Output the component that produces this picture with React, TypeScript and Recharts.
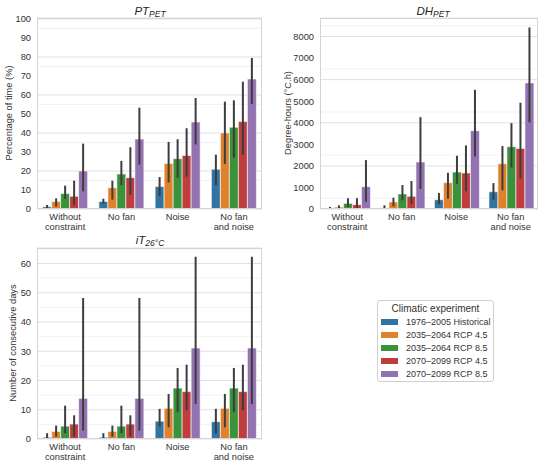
import React from 'react'
import { BarChart, Bar, XAxis, YAxis, CartesianGrid, ErrorBar } from 'recharts'

const categories = ['Without\nconstraint', 'No fan', 'Noise', 'No fan\nand noise']
const seriesNames = [
  '1976–2005 Historical',
  '2035–2064 RCP 4.5',
  '2035–2064 RCP 8.5',
  '2070–2099 RCP 4.5',
  '2070–2099 RCP 8.5',
]
const seriesColors = ['#3274a1', '#e1812c', '#3a923a', '#c03d3e', '#9372b2']

// PT_PET (% of time), one row per series, one value per category
const ptMean = [
  [1.2, 4.0, 11.8, 20.9],
  [3.9, 11.2, 23.9, 40.0],
  [8.1, 18.4, 26.5, 43.0],
  [6.7, 16.5, 28.2, 46.0],
  [20.0, 36.8, 45.8, 68.4],
]
const ptLow = [
  [0.35, 2.8, 6.8, 12.6],
  [1.4, 4.9, 14.0, 23.7],
  [5.3, 12.5, 16.5, 27.0],
  [1.9, 7.4, 17.0, 28.4],
  [9.3, 23.3, 34.0, 55.3],
]
const ptHigh = [
  [2.1, 5.4, 16.8, 28.6],
  [5.6, 14.9, 35.3, 56.5],
  [12.3, 25.3, 36.7, 57.2],
  [14.9, 32.5, 42.5, 67.0],
  [34.4, 53.3, 58.4, 79.5],
]

// DH_PET (degree-hours)
const dhMean = [
  [40, 50, 430, 800],
  [90, 325, 1220, 2100],
  [260, 695, 1715, 2890],
  [200, 590, 1670, 2810],
  [1035, 2180, 3630, 5850],
]
const dhLow = [
  [0, 0, 230, 430],
  [0, 120, 480, 865],
  [100, 400, 1170, 1930],
  [0, 215, 820, 1420],
  [340, 930, 2440, 4015],
]
const dhHigh = [
  [100, 170, 740, 1200],
  [170, 525, 1680, 2920],
  [500, 1110, 2470, 3985],
  [500, 1300, 2950, 4930],
  [2270, 4260, 5530, 8420],
]

// iT_26°C (consecutive days)
const itMean = [
  [0.6, 0.6, 6.1, 5.9],
  [2.6, 2.6, 10.5, 10.5],
  [4.4, 4.4, 17.4, 17.4],
  [5.1, 5.1, 16.2, 16.2],
  [13.9, 13.9, 31.1, 31.1],
]
const itLow = [
  [0, 0, 4.3, 1.9],
  [0.8, 0.8, 4.0, 4.0],
  [2.0, 2.0, 9.2, 9.2],
  [0.9, 0.9, 9.9, 9.9],
  [2.9, 2.9, 12.0, 12.0],
]
const itHigh = [
  [2.0, 2.0, 10.3, 10.3],
  [4.6, 4.6, 15.4, 15.4],
  [11.4, 11.4, 24.3, 24.3],
  [8.1, 8.1, 25.4, 25.4],
  [48.2, 48.2, 62.3, 62.3],
]

const ptTicks = [0, 10, 20, 30, 40, 50, 60, 70, 80, 90, 100]
const ptMinor = [5, 15, 25, 35, 45, 55, 65, 75, 85, 95]
const dhTicks = [0, 1000, 2000, 3000, 4000, 5000, 6000, 7000, 8000]
const dhMinor = [500, 1500, 2500, 3500, 4500, 5500, 6500, 7500, 8500]
const itTicks = [0, 10, 20, 30, 40, 50, 60]
const itMinor = [5, 15, 25, 35, 45, 55, 65]

const FONT = '"Liberation Sans", Arial, sans-serif'
const TEXT = '#333333'

function buildRows(mean: number[][], low: number[][], high: number[][]) {
  return categories.map((cat, i) => {
    const row: Record<string, any> = { cat }
    mean.forEach((vals, s) => {
      row['v' + s] = vals[i]
      row['e' + s] = [vals[i] - low[s][i], high[s][i] - vals[i]]
    })
    return row
  })
}

const XTick = (props: any) => {
  const { x, y, payload } = props
  const lines = String(payload.value).split('\n')
  return (
    <text x={x} y={y} textAnchor="middle" fill={TEXT} fontSize={9.3} fontFamily={FONT}>
      {lines.map((l, i) => (
        <tspan key={i} x={x} dy={10.6}>
          {l}
        </tspan>
      ))}
    </text>
  )
}

interface PanelProps {
  left: number
  top: number
  yWidth: number
  marginLeft: number
  marginRight: number
  domainMax: number
  ticks: number[]
  minor: number[]
  rows: Record<string, any>[]
}

function Panel({ left, top, yWidth, marginLeft, marginRight, domainMax, ticks, minor, rows }: PanelProps) {
  const plotLeft = marginLeft + yWidth
  const plotW = 275 - marginRight - plotLeft
  return (
    <div style={{ position: 'absolute', left, top, width: 275, height: 240 }}>
      <BarChart
        width={275}
        height={240}
        data={rows}
        margin={{ top: 18, right: marginRight, bottom: 5, left: marginLeft }}
        barCategoryGap="10%"
        barGap={0}
      >
        <CartesianGrid vertical={false} stroke="#efefef" strokeWidth={0.8} horizontalValues={minor} />
        <CartesianGrid vertical={false} stroke="#e0e0e0" strokeWidth={1} />
        <XAxis
          dataKey="cat"
          tick={<XTick />}
          tickLine={false}
          axisLine={false}
          tickSize={0}
          tickMargin={0}
          height={26}
          interval={0}
        />
        <YAxis
          width={yWidth}
          domain={[0, domainMax]}
          ticks={ticks}
          allowDataOverflow
          tickLine={false}
          axisLine={false}
          tickSize={0}
          tickMargin={6}
          tick={{ fill: TEXT, fontSize: 9.3, fontFamily: FONT }}
        />
        {seriesNames.map((name, s) => (
          <Bar
            key={name}
            dataKey={'v' + s}
            name={name}
            fill={seriesColors[s]}
            stroke="#ffffff"
            strokeWidth={0.6}
            isAnimationActive={false}
          >
            <ErrorBar dataKey={'e' + s} direction="y" width={0} stroke="#3d3d3d" strokeWidth={2} />
          </Bar>
        ))}
      </BarChart>
      <div
        style={{
          position: 'absolute',
          left: plotLeft,
          top: 18,
          width: plotW,
          height: 191,
          border: '1px solid #d4d4d4',
          boxSizing: 'border-box',
          pointerEvents: 'none',
        }}
      />
    </div>
  )
}

const Title = ({ x, y, main, sub }: { x: number; y: number; main: string; sub: string }) => (
  <div
    style={{
      position: 'absolute',
      left: x - 60,
      top: y - 8,
      width: 120,
      textAlign: 'center',
      fontFamily: FONT,
      fontSize: 11.5,
      fontStyle: 'italic',
      color: '#262626',
      lineHeight: '16px',
    }}
  >
    {main}
    <sub style={{ fontSize: 8.5, verticalAlign: '-2px' }}>{sub}</sub>
  </div>
)

const YLabel = ({ x, y, text }: { x: number; y: number; text: string }) => (
  <div
    style={{
      position: 'absolute',
      left: x - 100,
      top: y - 6,
      width: 200,
      height: 12,
      textAlign: 'center',
      fontFamily: FONT,
      fontSize: 9.3,
      color: TEXT,
      lineHeight: '12px',
      transform: 'rotate(-90deg)',
      whiteSpace: 'nowrap',
    }}
  >
    {text}
  </div>
)

function LegendBox() {
  return (
    <div
      style={{
        position: 'absolute',
        left: 377,
        top: 300,
        width: 117,
        height: 82,
        border: '1px solid #cfcfcf',
        borderRadius: 3,
        boxSizing: 'border-box',
        background: '#fff',
        fontFamily: FONT,
        color: TEXT,
      }}
    >
      <div style={{ position: 'absolute', left: 0, top: 2, width: '100%', textAlign: 'center', fontSize: 10, lineHeight: '12px' }}>
        Climatic experiment
      </div>
      {seriesNames.map((name, i) => (
        <div key={name} style={{ position: 'absolute', left: 3, top: 15 + i * 13, height: 12, display: 'flex', alignItems: 'center' }}>
          <div style={{ width: 17, height: 5.5, background: seriesColors[i], marginRight: 8 }} />
          <span style={{ fontSize: 9, lineHeight: '12px', whiteSpace: 'nowrap' }}>{name}</span>
        </div>
      ))}
    </div>
  )
}

export default function App() {
  const ptRows = buildRows(ptMean, ptLow, ptHigh)
  const dhRows = buildRows(dhMean, dhLow, dhHigh)
  const itRows = buildRows(itMean, itLow, itHigh)
  return (
    <div style={{ position: 'fixed', left: 0, top: 0, width: 550, height: 467, background: '#ffffff', overflow: 'hidden' }}>
      <Panel left={0} top={0} yWidth={30} marginLeft={7} marginRight={13} domainMax={100.5} ticks={ptTicks} minor={ptMinor} rows={ptRows} />
      <Panel left={275} top={0} yWidth={35} marginLeft={10} marginRight={12} domainMax={8860} ticks={dhTicks} minor={dhMinor} rows={dhRows} />
      <Panel left={0} top={230} yWidth={30} marginLeft={7} marginRight={13} domainMax={65.3} ticks={itTicks} minor={itMinor} rows={itRows} />
      <Title x={150} y={11} main="PT" sub="PET" />
      <Title x={433} y={11} main="DH" sub="PET" />
      <Title x={150} y={240} main="iT" sub="26°C" />
      <YLabel x={8.5} y={113} text="Percentage of time (%)" />
      <YLabel x={288} y={113} text="Degree-hours (°C.h)" />
      <YLabel x={13} y={343} text="Number of consecutive days" />
      <LegendBox />
    </div>
  )
}
